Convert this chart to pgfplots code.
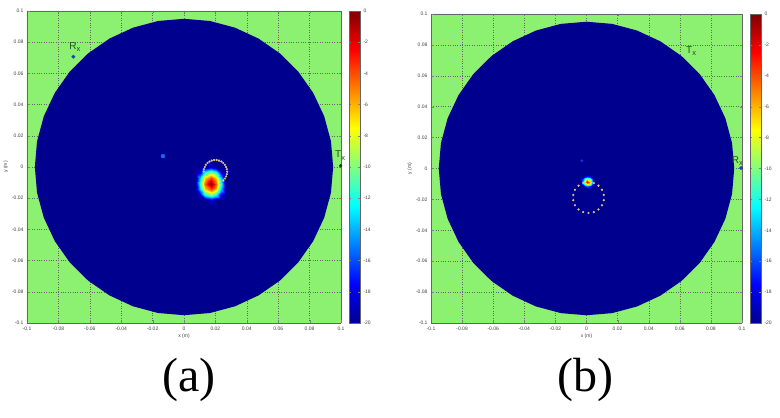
\documentclass[border=0pt]{standalone}
\usepackage{fontspec}
\setmainfont{Liberation Serif}
\setsansfont{Liberation Sans}
\usepackage{pgfplots}
\pgfplotsset{compat=1.18}
\usepackage{pgfplotstable}

\definecolor{bggreen}{RGB}{140,240,112}
\definecolor{discblue}{RGB}{0,0,143}
\definecolor{dotc}{RGB}{220,195,135}
\definecolor{labc}{RGB}{45,75,45}

\pgfplotsset{
  colormap={mjet}{rgb255(0cm)=(0,0,143) rgb255(1cm)=(0,0,255) rgb255(3cm)=(0,255,255) rgb255(5cm)=(255,255,0) rgb255(7cm)=(255,0,0) rgb255(8cm)=(128,0,0)},
  panel/.style={
    scale only axis, view={0}{90}, clip=false,
    xmin=-0.1, xmax=0.1, ymin=-0.1, ymax=0.1,
    xtick={-0.1,-0.08,-0.06,-0.04,-0.02,0,0.02,0.04,0.06,0.08,0.1},
    xticklabels={-0.1,-0.08,-0.06,-0.04,-0.02,0,0.02,0.04,0.06,0.08,0.1},
    ytick={-0.1,-0.08,-0.06,-0.04,-0.02,0,0.02,0.04,0.06,0.08,0.1},
    yticklabels={-0.1,-0.08,-0.06,-0.04,-0.02,0,0.02,0.04,0.06,0.08,0.1},
    ztick=\empty,
    tick align=inside, major tick length=2.5pt,
    tick label style={font=\sffamily\fontsize{5}{6}\selectfont, text=black!75},
    label style={font=\sffamily\fontsize{5}{6}\selectfont, text=black!75},
    xlabel={x (m)}, ylabel={y (m)},
    xlabel style={yshift=3pt}, ylabel style={yshift=-3pt},
    axis background/.style={fill=bggreen},
    axis line style={black!60, line width=0.4pt},
    colormap name=mjet, point meta min=-20, point meta max=0,
    colorbar,
    colorbar shift/.style={xshift=8pt},
    colorbar style={
      width=11pt,
      at={(parent axis.north east)}, anchor=north west,
      ytick={-20,-18,-16,-14,-12,-10,-8,-6,-4,-2,0},
      yticklabels={-20,-18,-16,-14,-12,-10,-8,-6,-4,-2,0},
      yticklabel style={font=\sffamily\fontsize{5}{6}\selectfont, text=black!75},
      major tick length=2pt, axis line style={black!60},
    },
  },
  gridl/.style={dotted, black!60, line width=0.4pt, mark=none, unbounded coords=jump},
}

\pgfplotstableread{
x y z
-0.08 -0.1 0
-0.08 0.1 0
nan nan nan
-0.06 -0.1 0
-0.06 0.1 0
nan nan nan
-0.04 -0.1 0
-0.04 0.1 0
nan nan nan
-0.02 -0.1 0
-0.02 0.1 0
nan nan nan
0 -0.1 0
0 0.1 0
nan nan nan
0.02 -0.1 0
0.02 0.1 0
nan nan nan
0.04 -0.1 0
0.04 0.1 0
nan nan nan
0.06 -0.1 0
0.06 0.1 0
nan nan nan
0.08 -0.1 0
0.08 0.1 0
nan nan nan
-0.1 -0.08 0
0.1 -0.08 0
nan nan nan
-0.1 -0.06 0
0.1 -0.06 0
nan nan nan
-0.1 -0.04 0
0.1 -0.04 0
nan nan nan
-0.1 -0.02 0
0.1 -0.02 0
nan nan nan
-0.1 0 0
0.1 0 0
nan nan nan
-0.1 0.02 0
0.1 0.02 0
nan nan nan
-0.1 0.04 0
0.1 0.04 0
nan nan nan
-0.1 0.06 0
0.1 0.06 0
nan nan nan
-0.1 0.08 0
0.1 0.08 0
}\gridtab

\pgfplotstableread{
x y z
0.0950 0.0000 0
0.0936 0.0165 0
0.0893 0.0325 0
0.0823 0.0475 0
0.0728 0.0611 0
0.0611 0.0728 0
0.0475 0.0823 0
0.0325 0.0893 0
0.0165 0.0936 0
0.0000 0.0950 0
-0.0165 0.0936 0
-0.0325 0.0893 0
-0.0475 0.0823 0
-0.0611 0.0728 0
-0.0728 0.0611 0
-0.0823 0.0475 0
-0.0893 0.0325 0
-0.0936 0.0165 0
-0.0950 0.0000 0
-0.0936 -0.0165 0
-0.0893 -0.0325 0
-0.0823 -0.0475 0
-0.0728 -0.0611 0
-0.0611 -0.0728 0
-0.0475 -0.0823 0
-0.0325 -0.0893 0
-0.0165 -0.0936 0
0.0000 -0.0950 0
0.0165 -0.0936 0
0.0325 -0.0893 0
0.0475 -0.0823 0
0.0611 -0.0728 0
0.0728 -0.0611 0
0.0823 -0.0475 0
0.0893 -0.0325 0
0.0936 -0.0165 0
}\disc

\pgfplotstableread{
x y v
0.0037 -0.0250 -20
0.0070 -0.0250 -20
0.0103 -0.0250 -20
0.0136 -0.0250 -20
0.0169 -0.0250 -20
0.0202 -0.0250 -20
0.0235 -0.0250 -20
0.0268 -0.0250 -20
0.0301 -0.0250 -20
0.0037 -0.0214 -20
0.0070 -0.0214 -20
0.0103 -0.0214 -20
0.0136 -0.0214 -20
0.0169 -0.0214 -18.4
0.0202 -0.0214 -20
0.0235 -0.0214 -20
0.0268 -0.0214 -20
0.0301 -0.0214 -20
0.0037 -0.0178 -20
0.0070 -0.0178 -20
0.0103 -0.0178 -18.4
0.0136 -0.0178 -12.3
0.0169 -0.0178 -10.0
0.0202 -0.0178 -12.3
0.0235 -0.0178 -18.4
0.0268 -0.0178 -20
0.0301 -0.0178 -20
0.0037 -0.0142 -20
0.0070 -0.0142 -20
0.0103 -0.0142 -13.6
0.0136 -0.0142 -6.5
0.0169 -0.0142 -3.6
0.0202 -0.0142 -6.5
0.0235 -0.0142 -13.6
0.0268 -0.0142 -20
0.0301 -0.0142 -20
0.0037 -0.0106 -20
0.0070 -0.0106 -20
0.0103 -0.0106 -11.9
0.0136 -0.0106 -4.2
0.0169 -0.0106 0
0.0202 -0.0106 -4.2
0.0235 -0.0106 -11.9
0.0268 -0.0106 -20
0.0301 -0.0106 -20
0.0037 -0.0070 -20
0.0070 -0.0070 -20
0.0103 -0.0070 -13.6
0.0136 -0.0070 -6.5
0.0169 -0.0070 -3.6
0.0202 -0.0070 -6.5
0.0235 -0.0070 -13.6
0.0268 -0.0070 -20
0.0301 -0.0070 -20
0.0037 -0.0034 -20
0.0070 -0.0034 -20
0.0103 -0.0034 -18.4
0.0136 -0.0034 -12.3
0.0169 -0.0034 -10.0
0.0202 -0.0034 -12.3
0.0235 -0.0034 -18.4
0.0268 -0.0034 -20
0.0301 -0.0034 -20
0.0037 0.0002 -20
0.0070 0.0002 -20
0.0103 0.0002 -20
0.0136 0.0002 -20
0.0169 0.0002 -18.4
0.0202 0.0002 -20
0.0235 0.0002 -20
0.0268 0.0002 -20
0.0301 0.0002 -20
0.0037 0.0038 -20
0.0070 0.0038 -20
0.0103 0.0038 -20
0.0136 0.0038 -20
0.0169 0.0038 -20
0.0202 0.0038 -20
0.0235 0.0038 -20
0.0268 0.0038 -20
0.0301 0.0038 -20
}\blobA

\pgfplotstableread{
x y v
-0.0040 -0.0130 -20
-0.0025 -0.0130 -20
-0.0010 -0.0130 -20
0.0005 -0.0130 -20
0.0020 -0.0130 -20
0.0035 -0.0130 -20
0.0050 -0.0130 -20
-0.0040 -0.0115 -20
-0.0025 -0.0115 -20
-0.0010 -0.0115 -16.7
0.0005 -0.0115 -14.9
0.0020 -0.0115 -16.7
0.0035 -0.0115 -20
0.0050 -0.0115 -20
-0.0040 -0.0100 -20
-0.0025 -0.0100 -15.5
-0.0010 -0.0100 -9.6
0.0005 -0.0100 -7.2
0.0020 -0.0100 -9.6
0.0035 -0.0100 -15.5
0.0050 -0.0100 -20
-0.0040 -0.0085 -20
-0.0025 -0.0085 -13.3
-0.0010 -0.0085 -6.6
0.0005 -0.0085 -2.0
0.0020 -0.0085 -6.6
0.0035 -0.0085 -13.3
0.0050 -0.0085 -20
-0.0040 -0.0070 -20
-0.0025 -0.0070 -15.5
-0.0010 -0.0070 -9.6
0.0005 -0.0070 -7.2
0.0020 -0.0070 -9.6
0.0035 -0.0070 -15.5
0.0050 -0.0070 -20
-0.0040 -0.0055 -20
-0.0025 -0.0055 -20
-0.0010 -0.0055 -16.7
0.0005 -0.0055 -14.9
0.0020 -0.0055 -16.7
0.0035 -0.0055 -20
0.0050 -0.0055 -20
-0.0040 -0.0040 -20
-0.0025 -0.0040 -20
-0.0010 -0.0040 -20
0.0005 -0.0040 -20
0.0020 -0.0040 -20
0.0035 -0.0040 -20
0.0050 -0.0040 -20
}\blobB

\begin{document}
\begin{tikzpicture}
\useasboundingbox (0,0) rectangle (780pt,418pt);

% ---------------- panel (a)
\begin{axis}[panel, at={(27pt,95pt)}, anchor=south west, width=314pt, height=312pt]
\addplot3[gridl] table[x=x,y=y,z=z] {\gridtab};
\addplot3[fill=discblue, draw=none, mark=none] table[x=x,y=y,z=z] {\disc};
\addplot3[surf, shader=interp, mesh/cols=9, mesh/rows=9, point meta=\thisrow{v}] table[x=x,y=y,z=v] {\blobA};
\addplot3[only marks, mark=*, mark size=2pt, color={rgb,255:red,30;green,100;blue,240}] coordinates {(-0.0134,0.0070,0)};
\addplot3[only marks, mark=*, mark size=0.9pt, color=dotc] coordinates {
(0.0125,-0.0030,0) (0.0127,-0.0014,0) (0.0132,0.0000,0) (0.0139,0.0014,0)
(0.0150,0.0026,0) (0.0163,0.0035,0) (0.0177,0.0041,0) (0.0192,0.0045,0)
(0.0208,0.0045,0) (0.0223,0.0041,0) (0.0238,0.0035,0) (0.0250,0.0026,0)
(0.0261,0.0014,0) (0.0268,0.0000,0) (0.0273,-0.0014,0) (0.0275,-0.0030,0)
(0.0273,-0.0046,0) (0.0268,-0.0060,0) (0.0261,-0.0074,0) (0.0250,-0.0086,0)};
\addplot3[only marks, mark=*, mark size=1.7pt, color={rgb,255:red,30;green,60;blue,200}] coordinates {(-0.0705,0.0707,0)};
\addplot3[only marks, mark=*, mark size=1.5pt, color={rgb,255:red,20;green,60;blue,20}] coordinates {(0.0998,0.0008,0)};
\node[labc, anchor=base west, inner sep=0pt, font=\sffamily\fontsize{10}{12}\selectfont] at (axis cs:-0.0731,0.0755,0) {R\raisebox{-2.5pt}{\fontsize{7.5}{8}\selectfont x}};
\node[labc, anchor=base west, inner sep=0pt, font=\sffamily\fontsize{10}{12}\selectfont] at (axis cs:0.0962,0.0060,0) {T\raisebox{-2.5pt}{\fontsize{7.5}{8}\selectfont x}};
\end{axis}

% ---------------- panel (b)
\begin{axis}[panel, at={(431pt,95pt)}, anchor=south west, width=311pt, height=309pt]
\addplot3[gridl] table[x=x,y=y,z=z] {\gridtab};
\addplot3[fill=discblue, draw=none, mark=none] table[x=x,y=y,z=z] {\disc};
\addplot3[surf, shader=interp, mesh/cols=7, mesh/rows=7, point meta=\thisrow{v}] table[x=x,y=y,z=v] {\blobB};
\addplot3[only marks, mark=*, mark size=1.2pt, color={rgb,255:red,20;green,50;blue,210}] coordinates {(-0.0030,0.0050,0)};
\addplot3[only marks, mark=*, mark size=0.9pt, color=dotc] coordinates {
(0.0047,-0.0094,0) (0.0077,-0.0111,0) (0.0100,-0.0138,0) (0.0111,-0.0171,0)
(0.0111,-0.0205,0) (0.0100,-0.0238,0) (0.0077,-0.0265,0) (0.0047,-0.0282,0)
(0.0013,-0.0288,0) (-0.0021,-0.0282,0) (-0.0051,-0.0265,0) (-0.0074,-0.0238,0)
(-0.0085,-0.0205,0) (-0.0085,-0.0171,0) (-0.0074,-0.0138,0) (-0.0051,-0.0111,0)
(-0.0021,-0.0094,0)};
\addplot3[only marks, mark=*, mark size=1.7pt, color={rgb,255:red,30;green,60;blue,200}] coordinates {(0.0994,0.0003,0)};
\node[labc, anchor=base west, inner sep=0pt, font=\sffamily\fontsize{10}{12}\selectfont] at (axis cs:0.0640,0.0746,0) {T\raisebox{-2.5pt}{\fontsize{7.5}{8}\selectfont x}};
\node[labc, anchor=base west, inner sep=0pt, font=\sffamily\fontsize{10}{12}\selectfont] at (axis cs:0.0934,0.0034,0) {R\raisebox{-2.5pt}{\fontsize{7.5}{8}\selectfont x}};
\end{axis}

\node[anchor=base, inner sep=0pt, font=\rmfamily\fontsize{48}{56}\selectfont] at (189pt,26pt) {(a)};
\node[anchor=base, inner sep=0pt, font=\rmfamily\fontsize{48}{56}\selectfont] at (585pt,26pt) {(b)};
\end{tikzpicture}
\end{document}
